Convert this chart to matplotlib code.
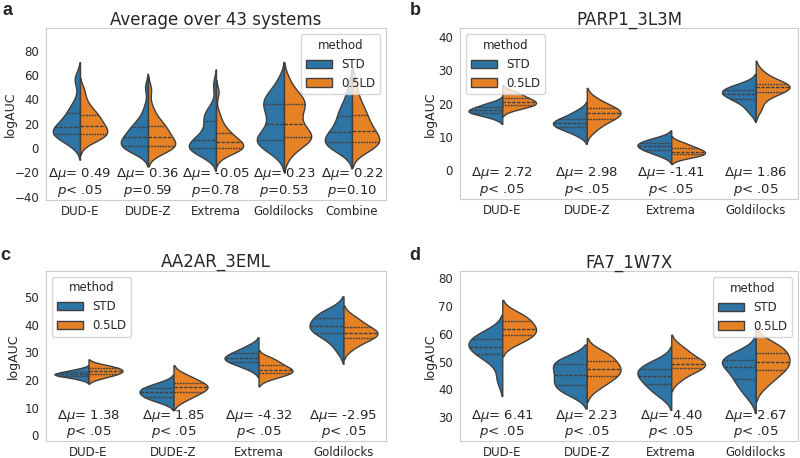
import matplotlib
matplotlib.use("Agg")
import matplotlib.pyplot as plt
import matplotlib.transforms as mtransforms
import pandas as pd
import seaborn as sns

methods = ["STD", "0.5LD"]
cats_a = ["DUD-E", "DUDE-Z", "Extrema", "Goldilocks", "Combine"]
cats_bcd = ["DUD-E", "DUDE-Z", "Extrema", "Goldilocks"]

# a: average over 43 systems (logAUC values)
a_std = [
    [3, 6, 8, 10, 11, 12, 13, 14, 15, 16, 18, 20, 22, 25, 28, 30, 34, 40, 55, 58],
    [-4, -2, 0, 1, 1.5, 2, 3, 5, 7, 8, 9.5, 11, 13, 15, 17, 19, 22, 26, 34, 50],
    [-6, -4, -2, -1, 0, 0.5, 1, 2, 4, 6, 8, 10, 12, 16, 22, 24, 27, 29, 35, 52],
    [-4, 0, 2, 5, 6, 7, 8, 10, 14, 18, 22, 26, 30, 34, 36, 38, 41, 44, 48, 56],
    [-4, -1, 1, 3, 4, 5, 6, 8, 10, 12, 14, 16, 19, 22, 26, 28, 32, 36, 42, 52],
]
a_ld = [
    [4, 7, 9, 10, 11, 12, 13, 15, 17, 18, 19, 21, 23, 25, 27, 29, 31, 35, 40, 48],
    [-4, -2, 0, 1, 1.5, 2, 3, 5, 7, 8.5, 10, 12, 14, 16, 18, 20, 23, 27, 34, 48],
    [-5, -3, -2, -1, 0, 0.5, 1, 2, 3, 4, 5.5, 7, 8, 10, 12, 14, 17, 21, 28, 46],
    [-6, 2, 4, 7, 8, 9, 10, 12, 15, 18, 22, 26, 30, 33, 36, 38, 40, 43, 47, 56],
    [-3, 0, 2, 3, 4, 5, 7, 9, 11, 13, 15, 17, 20, 23, 26, 29, 33, 37, 44, 54],
]
a_dmu = ["0.49", "0.36", "-0.05", "0.23", "0.22"]
a_p = ["< .05", "=0.59", "=0.78", "=0.53", "=0.10"]

# b: PARP1_3L3M
b_std = [
    [15.6, 16.5, 17.0, 17.2, 17.5, 17.8, 18.1, 18.4, 18.8, 19.2, 19.8, 20.4],
    [10.5, 11.8, 12.5, 13.0, 13.5, 13.9, 14.3, 14.8, 15.2, 15.8, 16.8, 18.0],
    [4.2, 5.2, 5.8, 6.2, 6.7, 7.1, 7.5, 7.9, 8.2, 8.6, 9.2, 9.9],
    [17.5, 19.5, 20.8, 21.6, 22.2, 22.8, 23.3, 23.7, 24.1, 24.6, 25.2, 26.0],
]
b_ld = [
    [18.2, 19.0, 19.4, 19.7, 20.1, 20.4, 20.8, 21.2, 21.6, 22.3, 23.0, 23.6],
    [12.0, 13.8, 15.0, 15.6, 16.3, 16.8, 17.4, 17.9, 18.4, 19.0, 20.0, 21.5],
    [3.6, 4.2, 4.5, 4.8, 5.1, 5.4, 5.8, 6.2, 6.5, 7.0, 7.7, 8.4],
    [18.5, 21.5, 23.0, 23.8, 24.3, 24.7, 25.1, 25.5, 25.9, 26.5, 27.5, 29.5],
]
b_dmu = ["2.72", "2.98", "-1.41", "1.86"]
b_p = ["< .05", "< .05", "< .05", "< .05"]

# c: AA2AR_3EML
c_std = [
    [20.2, 20.9, 21.3, 21.6, 21.8, 22.0, 22.2, 22.4, 22.7, 23.0, 23.5, 24.0],
    [11.8, 12.9, 13.6, 14.1, 14.7, 15.3, 15.9, 16.4, 16.8, 17.4, 18.2, 19.2],
    [24.0, 25.3, 26.2, 26.8, 27.3, 27.8, 28.3, 28.8, 29.4, 30.2, 31.2, 32.5],
    [31.0, 34.5, 36.2, 37.4, 38.3, 39.1, 39.8, 40.6, 42.2, 43.4, 44.2, 45.2],
]
c_ld = [
    [20.5, 21.3, 21.9, 22.3, 22.7, 23.0, 23.4, 23.8, 24.1, 24.5, 25.0, 25.6],
    [12.5, 14.0, 15.0, 15.9, 16.5, 17.1, 17.7, 18.3, 18.8, 19.6, 20.8, 22.0],
    [20.5, 21.5, 22.2, 22.7, 23.1, 23.5, 24.0, 24.6, 25.3, 26.2, 27.2, 28.0],
    [31.5, 33.5, 34.8, 35.5, 36.2, 36.8, 37.4, 38.0, 38.8, 40.0, 41.5, 43.0],
]
c_dmu = ["1.38", "1.85", "-4.32", "-2.95"]
c_p = ["< .05", "< .05", "< .05", "< .05"]

# d: FA7_1W7X
d_std = [
    [43.5, 49.5, 51.8, 53.2, 54.1, 54.9, 55.8, 56.7, 57.8, 58.7, 59.6, 60.8],
    [38.5, 39.5, 40.8, 41.9, 43.2, 44.5, 45.9, 47.0, 48.8, 49.9, 50.5, 50.8],
    [37.5, 39.5, 41.0, 42.3, 43.4, 44.5, 45.5, 46.4, 47.1, 48.0, 49.2, 50.5],
    [37.5, 40.5, 42.5, 44.0, 45.8, 47.4, 49.0, 49.8, 50.4, 51.0, 52.0, 53.2],
]
d_ld = [
    [56.2, 57.8, 58.9, 59.7, 60.6, 61.4, 62.3, 63.2, 64.2, 65.3, 66.5, 67.8],
    [40.5, 42.5, 44.0, 45.1, 46.0, 46.8, 47.8, 48.7, 49.9, 51.3, 52.5, 53.5],
    [43.5, 45.5, 47.0, 47.8, 48.4, 48.8, 49.4, 50.2, 51.1, 52.3, 53.8, 55.5],
    [41.5, 44.0, 46.0, 47.3, 48.3, 49.3, 50.7, 51.7, 52.8, 54.4, 55.5, 56.5],
]
d_dmu = ["6.41", "2.23", "4.40", "2.67"]
d_p = ["< .05", "< .05", "< .05", "< .05"]


def to_long(cats, std, ld):
    rows = []
    for cat, s_vals, l_vals in zip(cats, std, ld):
        rows += [(cat, "STD", v) for v in s_vals]
        rows += [(cat, "0.5LD", v) for v in l_vals]
    return pd.DataFrame(rows, columns=["system", "method", "logAUC"])


sns.set_style("whitegrid")
plt.rcParams["font.family"] = ["DejaVu Sans"]
plt.rcParams["axes.edgecolor"] = "#cccccc"

major = int(sns.__version__.split(".")[1])
norm_kw = {"density_norm": "width"} if major >= 13 else {"scale": "width"}


def panel(ax, cats, std, ld, dmu, pvals, title, ylim, yticks, loc,
          label_x, bw=1.0):
    df = to_long(cats, std, ld)
    sns.violinplot(data=df, x="system", y="logAUC", hue="method",
                   order=cats, hue_order=methods, split=True, inner="quart",
                   palette=["#1f77b4", "#ff7f0e"], saturation=0.8,
                   linewidth=1, bw_adjust=bw, ax=ax, **norm_kw)
    ax.set_ylim(*ylim)
    ax.set_yticks(yticks)
    ax.set_xlim(-0.5, len(cats) - 0.5)
    ax.grid(False)
    ax.set_xlabel("")
    ax.set_ylabel("logAUC", fontsize=9)
    ax.yaxis.set_label_coords(label_x, 0.5)
    ax.set_title(title, fontsize=12, pad=2.5)
    ax.tick_params(labelsize=8.5, length=0)
    ax.tick_params(axis="x", pad=3.5)
    ax.tick_params(axis="y", pad=5)
    trans = mtransforms.blended_transform_factory(ax.transData, ax.transAxes)
    for i, (dm, p) in enumerate(zip(dmu, pvals)):
        ax.text(i, 0.151, r"$\Delta\mu$= " + dm, transform=trans,
                ha="center", va="center", fontsize=9.5)
        ax.text(i, 0.053, r"$p$" + p, transform=trans,
                ha="center", va="center", fontsize=9.5)
    handles, labels = ax.get_legend_handles_labels()
    ax.legend(handles, labels, title="method", loc=loc, fontsize=8.5,
              title_fontsize=8.5, frameon=True, handlelength=2.2)


fig = plt.figure(figsize=(8, 4.58), dpi=100)
ax_a = fig.add_axes([0.0575, 0.5633, 0.425, 0.3749])
ax_b = fig.add_axes([0.575, 0.5648, 0.4225, 0.3734])
ax_c = fig.add_axes([0.0575, 0.0365, 0.425, 0.3725])
ax_d = fig.add_axes([0.575, 0.0365, 0.4225, 0.3712])

panel(ax_a, cats_a, a_std, a_ld, a_dmu, a_p, "Average over 43 systems",
      (-42.7, 98.4), [-40, -20, 0, 20, 40, 60, 80], "upper right",
      -0.085, bw=0.75)
panel(ax_b, cats_bcd, b_std, b_ld, b_dmu, b_p, "PARP1_3L3M",
      (-8.8, 42.7), [0, 10, 20, 30, 40], "upper left", -0.068)
panel(ax_c, cats_bcd, c_std, c_ld, c_dmu, c_p, "AA2AR_3EML",
      (-2.2, 59.6), [0, 10, 20, 30, 40, 50], "upper left", -0.076)
panel(ax_d, cats_bcd, d_std, d_ld, d_dmu, d_p, "FA7_1W7X",
      (21.4, 82.4), [30, 40, 50, 60, 70, 80], "upper right", -0.068)

for letter, x, y in [("a", 0.003, 0.995), ("b", 0.512, 0.995),
                     ("c", 0.0, 0.46), ("d", 0.512, 0.46)]:
    fig.text(x, y, letter, fontsize=13, fontweight="bold",
             family="Liberation Sans", va="top", ha="left")

fig.savefig("out.png", dpi=100)
